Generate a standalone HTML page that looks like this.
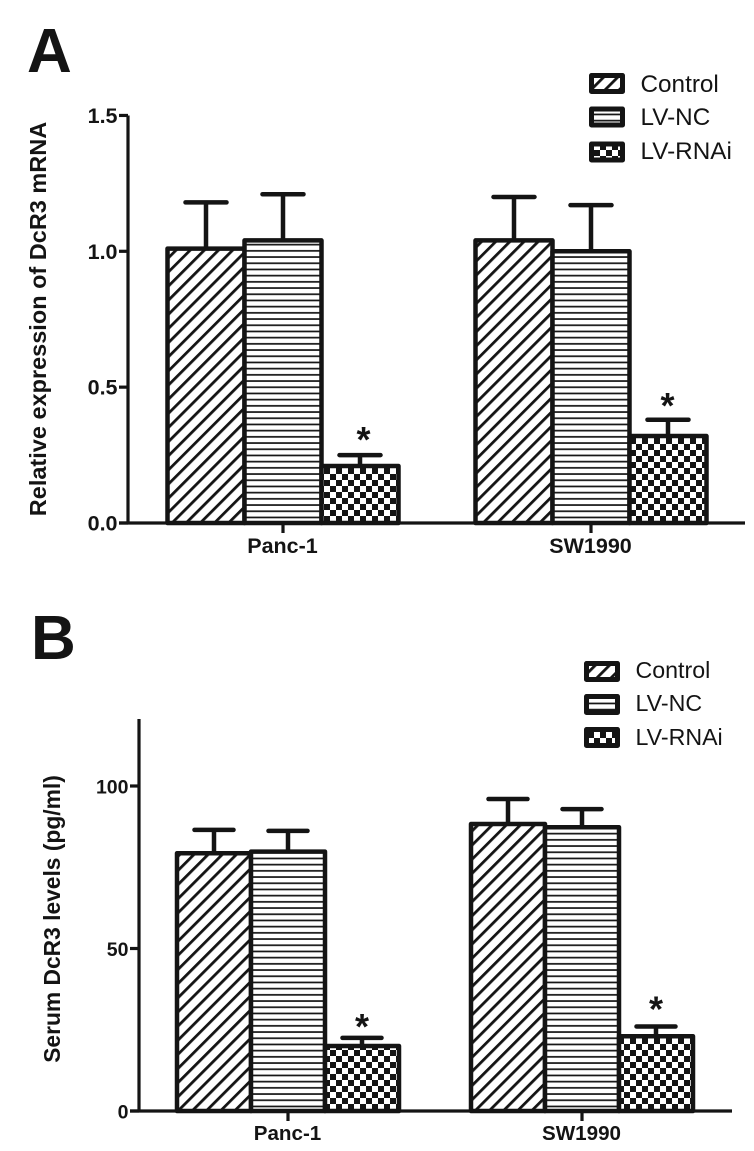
<!DOCTYPE html>
<html lang="en">
<head>
<meta charset="utf-8">
<title>DcR3 expression bar charts</title>
<style>
html,body{margin:0;padding:0;background:#fff;}
svg{display:block;}
text{font-family:"Liberation Sans",sans-serif;fill:#141414;}
.b{font-weight:bold;}
</style>
</head>
<body>
<svg id="figure" width="754" height="1151" viewBox="0 0 754 1151" xmlns="http://www.w3.org/2000/svg">
<defs>
<pattern id="p-diag" patternUnits="userSpaceOnUse" width="10" height="10" patternTransform="rotate(45)">
<rect width="10" height="10" fill="#fff"/><rect x="0" y="0" width="2.8" height="10" fill="#141414"/>
</pattern>
<pattern id="p-horiz" patternUnits="userSpaceOnUse" width="6.2" height="6.2">
<rect width="6.2" height="6.2" fill="#fff"/><rect x="0" y="2" width="6.2" height="1.7" fill="#141414"/>
</pattern>
<pattern id="p-check" patternUnits="userSpaceOnUse" width="12" height="12">
<rect width="12" height="12" fill="#fff"/><rect x="0" y="0" width="6" height="6" fill="#141414"/><rect x="6" y="6" width="6" height="6" fill="#141414"/>
</pattern>
</defs>
<g id="root"></g>
</svg>
<script>
var groupLabels = ["Panc-1", "SW1990"];
var seriesNames = ["Control", "LV-NC", "LV-RNAi"];

var ticksA = [0, 0.5, 1.0, 1.5];
var tickLabelsA = ["0.0", "0.5", "1.0", "1.5"];
var controlA = [1.01, 1.04];
var ncA = [1.04, 1.00];
var rnaiA = [0.21, 0.32];
var controlErrA = [0.17, 0.16];
var ncErrA = [0.17, 0.17];
var rnaiErrA = [0.04, 0.06];

var ticksB = [0, 50, 100];
var tickLabelsB = ["0", "50", "100"];
var controlB = [79.3, 88.3];
var ncB = [79.8, 87.3];
var rnaiB = [20, 23];
var controlErrB = [7.2, 7.7];
var ncErrB = [6.4, 5.6];
var rnaiErrB = [2.5, 3];

var NS = "http://www.w3.org/2000/svg";
var root = document.getElementById("root");
var fills = ["url(#p-diag)", "url(#p-horiz)", "url(#p-check)"];
var seriesKeys = ["control", "lv-nc", "lv-rnai"];

function make(tag, attrs, parent) {
  var el = document.createElementNS(NS, tag);
  for (var k in attrs) { el.setAttribute(k, attrs[k]); }
  (parent || root).appendChild(el);
  return el;
}

function drawChart(c) {
  var g = make("g", {});
  
  

  function y(v) { return c.y0 - (v - 0) * c.pxPerUnit; }
  function barLeft(group, s) { return c.groupStarts[group] + s * c.barW; }

  var letter = make("text", {x: c.letterX, y: c.letterY, "font-size": 62, "class": "b", fill: "#111"}, g);
  
  
  letter.textContent = c.letter;

  var title = make("text", {x: 0, y: 0, "font-size": c.titleSize, "class": "b", "text-anchor": "middle",
    transform: "translate(" + c.titleX + "," + c.titleY + ") rotate(-90)"}, g);
  
  
  title.textContent = c.title;

  c.series.forEach(function (vals, s) {
    vals.forEach(function (v, i) {
      var x = barLeft(i, s), cx = x + c.barW / 2, topErr = y(v + c.errs[s][i]);

      var stem = make("line", {x1: cx, x2: cx, y1: y(v), y2: topErr, stroke: "#141414", "stroke-width": 4.5}, g);
      
      

      var cap = make("line", {x1: cx - c.capW / 2, x2: cx + c.capW / 2, y1: topErr, y2: topErr, stroke: "#141414", "stroke-width": 4.5, "stroke-linecap": "round"}, g);
      
      

      var bar = make("rect", {x: x, y: y(v), width: c.barW, height: c.y0 - y(v), fill: fills[s], stroke: "#141414", "stroke-width": 4.5, "stroke-linejoin": "round"}, g);
      
      

      if (s === 2) {
        var star = make("text", {x: cx + c.starDx[i], y: topErr + c.starDy[i], "font-size": 36, "class": "b", "text-anchor": "middle"}, g);
        
        
        star.textContent = "*";
      }
    });
  });

  var yAxis = make("line", {x1: c.axisX, x2: c.axisX, y1: c.y0 + 1.5, y2: y(c.yMax), stroke: "#141414", "stroke-width": 3.2}, g);
  
  

  var xAxis = make("line", {x1: c.axisX - 9, x2: c.axisEnd, y1: c.y0, y2: c.y0, stroke: "#141414", "stroke-width": 3.2}, g);
  
  

  c.ticks.forEach(function (t, i) {
    var tick = make("line", {x1: c.axisX - 9, x2: c.axisX, y1: y(t), y2: y(t), stroke: "#141414", "stroke-width": 3.2}, g);
    
    
    var lab = make("text", {x: c.axisX - 10.5, y: y(t) + 7.5, "font-size": c.tickSize, "class": "b", "text-anchor": "end"}, g);
    
    
    lab.textContent = c.tickLabels[i];
  });

  groupLabels.forEach(function (name, i) {
    var cx = barLeft(i, 1) + c.barW / 2;
    var tick = make("line", {x1: cx, x2: cx, y1: c.y0, y2: c.y0 + 10, stroke: "#141414", "stroke-width": 3.2}, g);
    
    
    var lab = make("text", {x: cx - 0.5, y: c.labelY, "font-size": c.groupSize, "class": "b", "text-anchor": "middle"}, g);
    
    
    lab.textContent = name;
  });

  seriesNames.forEach(function (name, s) {
    var row = make("g", {}, g);
    
    
    var sw = make("rect", {x: c.legX + 2.5, y: c.legTops[s] + 2.5, width: 31, height: 16, fill: fills[s], stroke: "#141414", "stroke-width": 5, "stroke-linejoin": "round"}, row);
    
    
    var tx = make("text", {x: c.legX + 51.5, y: c.legBase[s], "font-size": c.legSize}, row);
    
    
    tx.textContent = name;
  });
}

drawChart({
  id: "a", letter: "A", letterX: 27, letterY: 72,
  title: "Relative expression of DcR3 mRNA", titleSize: 23.5, titleX: 46, titleY: 319,
  y0: 523, pxPerUnit: 271.7, yMax: 1.5, axisX: 128, axisEnd: 745,
  ticks: ticksA, tickLabels: tickLabelsA, tickSize: 21.5, groupSize: 21.5, labelY: 553,
  series: [controlA, ncA, rnaiA], errs: [controlErrA, ncErrA, rnaiErrA],
  groupStarts: [167.5, 475.5], barW: 77, capW: 41,
  starDx: [3.5, -0.5], starDy: [-3, -2],
  legX: 589, legTops: [73, 106.5, 141.5], legBase: [92, 125, 159], legSize: 24.3
});

drawChart({
  id: "b", letter: "B", letterX: 31, letterY: 659,
  title: "Serum DcR3 levels (pg/ml)", titleSize: 22.8, titleX: 60, titleY: 919,
  y0: 1111, pxPerUnit: 3.25, yMax: 120.6, axisX: 139, axisEnd: 732,
  ticks: ticksB, tickLabels: tickLabelsB, tickSize: 19.5, groupSize: 20.6, labelY: 1140,
  series: [controlB, ncB, rnaiB], errs: [controlErrB, ncErrB, rnaiErrB],
  groupStarts: [177, 471], barW: 74, capW: 39,
  starDx: [0, 0], starDy: [1, -5],
  legX: 584, legTops: [661, 694, 727], legBase: [678, 711, 745], legSize: 23.2
});
</script>
</body>
</html>
